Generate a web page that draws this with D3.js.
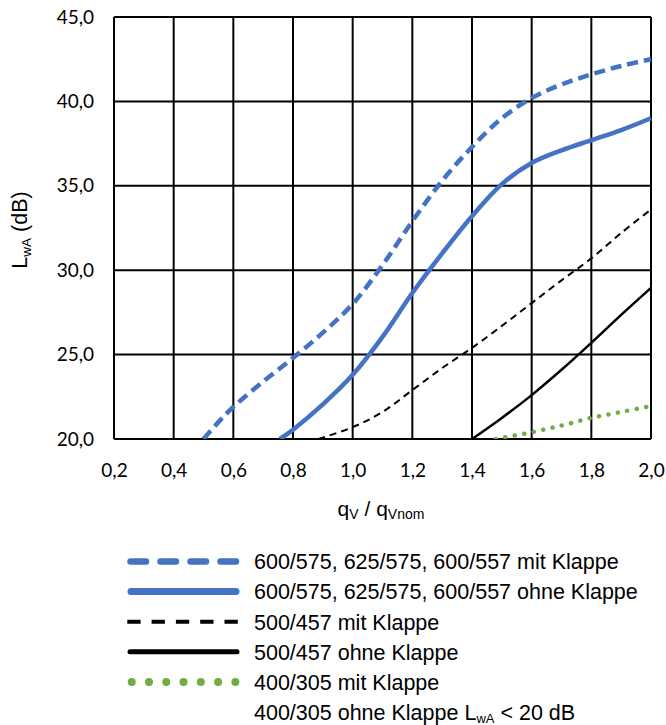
<!DOCTYPE html>
<html><head><meta charset="utf-8">
<script src="https://cdn.jsdelivr.net/npm/d3@7/dist/d3.min.js"></script>
<style>body{margin:0;background:#fff}svg{display:block}</style>
</head><body>
<script>
const xTicks = [0.2,0.4,0.6,0.8,1.0,1.2,1.4,1.6,1.8,2.0];
const yTicks = [20,25,30,35,40,45];

const blueMitX = [0.5,0.55,0.6,0.7,0.8,0.9,1.0,1.1,1.2,1.3,1.4,1.5,1.6,1.7,1.8,1.9,2.0];
const blueMitY = [20,21.0,21.9,23.4,24.8,26.3,28.0,30.3,32.9,35.3,37.3,39.0,40.2,41.0,41.6,42.1,42.5];
const blueOhneX = [0.756,0.8,0.9,1.0,1.1,1.2,1.3,1.4,1.5,1.6,1.7,1.8,1.9,2.0];
const blueOhneY = [20,20.55,22.05,23.8,26.05,28.65,31.0,33.2,35.1,36.35,37.1,37.7,38.3,39.0];
const blackMitX = [0.885,1.0,1.1,1.2,1.3,1.4,1.5,1.6,1.7,1.8,1.9,2.0];
const blackMitY = [20,20.7,21.6,22.9,24.2,25.4,26.7,28.05,29.4,30.7,32.2,33.6];
const blackOhneX = [1.4,1.5,1.6,1.7,1.8,1.9,2.0];
const blackOhneY = [20,21.25,22.6,24.1,25.7,27.35,28.95];
const greenMitX = [1.48,1.6,1.7,1.8,1.9,2.0];
const greenMitY = [20,20.4,20.8,21.25,21.6,21.95];

const W = 666, H = 725;
const L = 114, R = 651, T = 17, B = 439;
const svg = d3.select("body").append("svg").attr("width", W).attr("height", H);

const x = d3.scaleLinear().domain([0.2,2.0]).range([L,R]);
const y = d3.scaleLinear().domain([20,45]).range([B,T]);
const fmt = d => d.toFixed(1).replace(".", ",");

// grid
const g = svg.append("g");
g.selectAll("line.v").data(xTicks).join("line")
  .attr("x1", d=>x(d)).attr("x2", d=>x(d)).attr("y1", T).attr("y2", B)
  .attr("stroke","#000").attr("stroke-width",2);
g.selectAll("line.h").data(yTicks).join("line")
  .attr("y1", d=>y(d)).attr("y2", d=>y(d)).attr("x1", L).attr("x2", R)
  .attr("stroke","#000").attr("stroke-width",2);

// tick labels
const tickFont = "Lato, 'Open Sans', sans-serif";
svg.append("g").attr("transform",`translate(${L-20},0)`)
  .call(d3.axisLeft(y).tickValues(yTicks).tickFormat(fmt).tickSize(0))
  .call(a=>a.select(".domain").remove())
  .selectAll("text").attr("font-family",tickFont).attr("font-size",19).attr("fill","#000").attr("x",0);
svg.append("g").attr("transform",`translate(0,${B+21})`)
  .call(d3.axisBottom(x).tickValues(xTicks).tickFormat(fmt).tickSize(0))
  .call(a=>a.select(".domain").remove())
  .selectAll("text").attr("font-family",tickFont).attr("font-size",19).attr("fill","#000").attr("dy","0.71em");

// axis titles
const legFont = "'Liberation Sans', Arial, sans-serif";
const yt = svg.append("text").attr("transform","translate(27,230) rotate(-90)")
  .attr("text-anchor","middle").attr("font-family",legFont).attr("font-size",21.5).attr("fill","#000");
yt.append("tspan").text("L");
yt.append("tspan").attr("font-size",13.5).attr("dy",4).text("wA");
yt.append("tspan").attr("dy",-4).text(" (dB)");
const xt = svg.append("text").attr("x",381).attr("y",516)
  .attr("text-anchor","middle").attr("font-family",legFont).attr("font-size",21).attr("fill","#000");
xt.append("tspan").text("q");
xt.append("tspan").attr("font-size",14).attr("dy",3).text("V");
xt.append("tspan").attr("dy",-3).text(" / q");
xt.append("tspan").attr("font-size",14).attr("dy",3).text("Vnom");

// series
svg.append("defs").append("clipPath").attr("id","clip").append("rect")
  .attr("x",L).attr("y",T-5).attr("width",R-L+5).attr("height",B-T+5);
const line = d3.line().x(d=>x(d[0])).y(d=>y(d[1])).curve(d3.curveCatmullRom.alpha(0.5));
const zip = (a,b) => a.map((v,i)=>[v,b[i]]);
const series = [
  {xs:blueMitX, ys:blueMitY, color:"#4472C4", w:4.5, dash:"11,6", cap:"butt"},
  {xs:blueOhneX, ys:blueOhneY, color:"#4472C4", w:4.5, dash:null, cap:"butt"},
  {xs:blackMitX, ys:blackMitY, color:"#000", w:2, dash:"7,5", cap:"butt"},
  {xs:blackOhneX, ys:blackOhneY, color:"#000", w:2.5, dash:null, cap:"butt"},
  {xs:greenMitX, ys:greenMitY, color:"#70AD47", w:4.5, dash:"0.1,9.5", cap:"round"}
];
const sg = svg.append("g").attr("clip-path","url(#clip)");
series.forEach(s=>{
  sg.append("path").attr("d", line(zip(s.xs,s.ys))).attr("fill","none")
    .attr("stroke",s.color).attr("stroke-width",s.w).attr("stroke-linecap",s.cap)
    .attr("stroke-dasharray",s.dash);
});

// legend
const legend = [
  {text:"600/575, 625/575, 600/557 mit Klappe", color:"#4472C4", w:6.5, dash:"15.5,14.5", cap:"round", x1:130.5, x2:236.5},
  {text:"600/575, 625/575, 600/557 ohne Klappe", color:"#4472C4", w:7, dash:null, cap:"round", x1:131, x2:236},
  {text:"500/457 mit Klappe", color:"#000", w:4, dash:"13.3,11", cap:"butt", x1:127.3, x2:239.5},
  {text:"500/457 ohne Klappe", color:"#000", w:5, dash:null, cap:"round", x1:130, x2:237},
  {text:"400/305 mit Klappe", color:"#70AD47", w:8, dash:"0.01,17.27", cap:"round", x1:131.7, x2:236},
  {text:null, color:null}
];
const ly0 = 561.5, ldy = 30.1;
legend.forEach((d,i)=>{
  const yy = ly0 + i*ldy;
  if (d.color) {
    svg.append("line").attr("x1",d.x1).attr("x2",d.x2).attr("y1",yy).attr("y2",yy)
      .attr("stroke",d.color).attr("stroke-width",d.w).attr("stroke-linecap",d.cap)
      .attr("stroke-dasharray",d.dash);
  }
  const t = svg.append("text").attr("x",254).attr("y",yy+7.8)
    .attr("font-family",legFont).attr("font-size",21.5).attr("fill","#000");
  if (d.text) t.text(d.text);
  else {
    t.append("tspan").text("400/305 ohne Klappe L");
    t.append("tspan").attr("font-size",13).attr("dy",3).text("wA");
    t.append("tspan").attr("dy",-3).text(" < 20 dB");
  }
});
</script>
</body></html>
